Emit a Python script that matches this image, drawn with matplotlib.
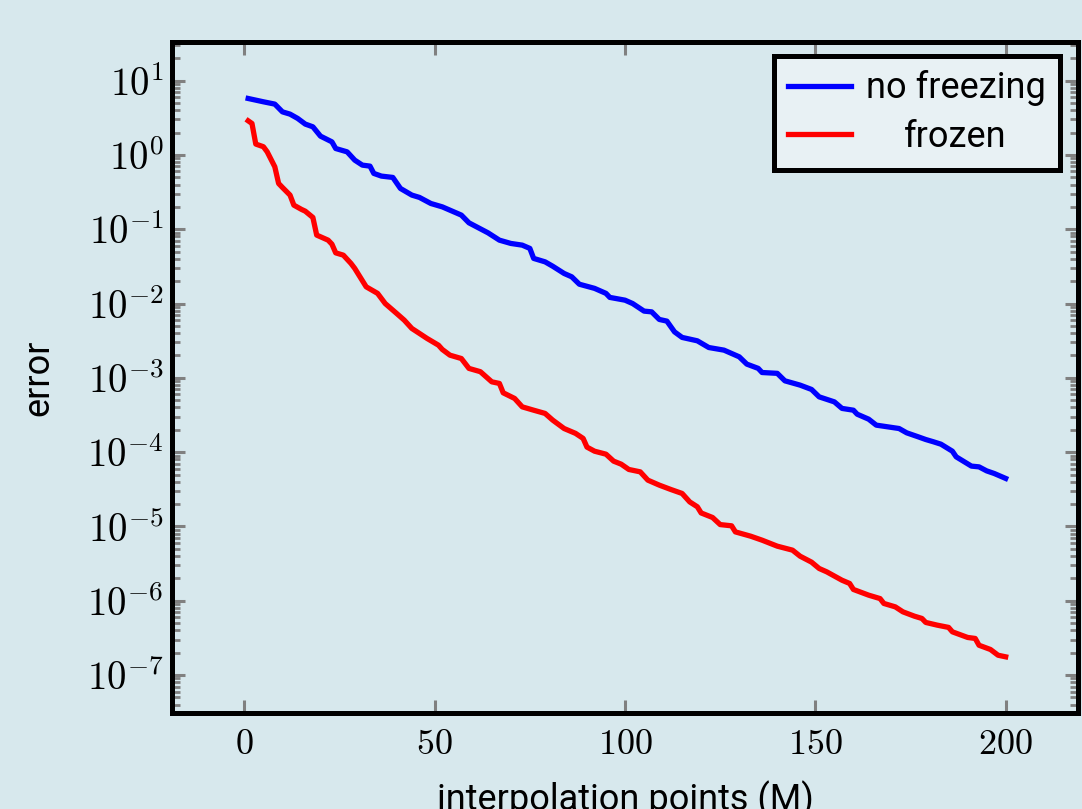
import numpy as np
import matplotlib
matplotlib.use("Agg")
import matplotlib.pyplot as plt
import matplotlib.ticker as ticker

# values
m_nofreeze = [1, 5, 8, 10, 12, 14, 16, 18, 20, 23, 24, 27, 29, 31, 33, 34, 36, 39, 41, 44,
              46, 49, 52, 57, 59, 64, 67, 70, 73, 75, 76, 79, 81, 84, 86, 88, 92, 95, 96, 100,
              102, 105, 107, 109, 111, 113, 115, 119, 122, 126, 130, 132, 135, 136, 140, 142,
              146, 149, 151, 155, 157, 160, 161, 164, 166, 172, 174, 177, 179, 181, 183, 186,
              187, 191, 193, 195, 197, 200]
err_nofreeze = [5.75, 5.19, 4.83, 3.80, 3.54, 3.10, 2.60, 2.39, 1.79, 1.50, 1.22, 1.10, 0.851,
                0.729, 0.707, 0.564, 0.519, 0.498, 0.354, 0.288, 0.268, 0.222, 0.200, 0.155,
                0.122, 0.0895, 0.0713, 0.0644, 0.0611, 0.0552, 0.0405, 0.0364, 0.0318, 0.0254,
                0.0229, 0.0182, 0.0160, 0.0137, 0.0121, 0.0111, 0.0100, 7.91e-3, 7.73e-3,
                6.11e-3, 5.80e-3, 4.16e-3, 3.50e-3, 3.15e-3, 2.56e-3, 2.36e-3, 1.92e-3, 1.53e-3,
                1.34e-3, 1.18e-3, 1.15e-3, 9.12e-4, 7.98e-4, 6.98e-4, 5.55e-4, 4.75e-4, 3.88e-4,
                3.67e-4, 3.24e-4, 2.78e-4, 2.31e-4, 2.08e-4, 1.82e-4, 1.61e-4, 1.48e-4, 1.38e-4,
                1.28e-4, 1.03e-4, 8.65e-5, 6.49e-5, 6.34e-5, 5.60e-5, 5.16e-5, 4.43e-5]

m_frozen = [1, 2, 3, 5, 6, 8, 9, 10, 12, 13, 15, 16, 18, 19, 22, 23, 24, 26, 28, 29, 32, 35,
            37, 38, 40, 42, 44, 46, 48, 51, 52, 54, 57, 59, 62, 65, 67, 68, 71, 73, 76, 79, 81,
            84, 87, 89, 90, 92, 95, 97, 99, 101, 104, 106, 109, 112, 115, 117, 119, 120, 123,
            125, 128, 129, 133, 136, 140, 144, 146, 149, 151, 153, 157, 159, 160, 164, 167,
            168, 171, 173, 176, 178, 179, 182, 185, 186, 190, 192, 193, 196, 198, 200]
err_frozen = [2.88, 2.65, 1.40, 1.29, 1.10, 0.692, 0.413, 0.365, 0.288, 0.211, 0.185, 0.175,
              0.144, 0.0834, 0.0713, 0.0630, 0.0481, 0.0448, 0.0347, 0.0297, 0.0168, 0.0137,
              0.0100, 9.03e-3, 7.36e-3, 5.98e-3, 4.62e-3, 3.96e-3, 3.39e-3, 2.75e-3, 2.41e-3,
              2.02e-3, 1.82e-3, 1.34e-3, 1.21e-3, 8.84e-4, 8.41e-4, 6.29e-4, 5.28e-4, 4.07e-4,
              3.67e-4, 3.32e-4, 2.70e-4, 2.08e-4, 1.79e-4, 1.53e-4, 1.17e-4, 1.03e-4, 9.39e-5,
              7.57e-5, 6.89e-5, 5.85e-5, 5.43e-5, 4.20e-5, 3.60e-5, 3.15e-5, 2.78e-5, 2.14e-5,
              1.84e-5, 1.52e-5, 1.32e-5, 1.06e-5, 1.02e-5, 8.45e-6, 7.40e-6, 6.54e-6, 5.43e-6,
              4.80e-6, 3.98e-6, 3.31e-6, 2.72e-6, 2.45e-6, 1.89e-6, 1.71e-6, 1.42e-6, 1.19e-6,
              1.07e-6, 9.20e-7, 8.28e-7, 7.10e-7, 6.21e-7, 5.78e-7, 5.11e-7, 4.70e-7, 4.38e-7,
              3.82e-7, 3.21e-7, 3.11e-7, 2.52e-7, 2.21e-7, 1.85e-7, 1.76e-7]

labels = ['no freezing', 'frozen']
x_ticks = [0, 50, 100, 150, 200]
y_exponents = [-7, -6, -5, -4, -3, -2, -1, 0, 1]
bg = '#d7e8ed'
label_font = 'Roboto'

plt.rcParams['mathtext.fontset'] = 'cm'

fig = plt.figure(figsize=(10.82, 8.09), dpi=100, facecolor=bg)
ax = fig.add_axes([0.159, 0.1187, 0.8373, 0.8294], facecolor=bg)

ax.plot(m_nofreeze, err_nofreeze, color='#0000ff', lw=3.8, label=labels[0])
ax.plot(m_frozen, err_frozen, color='#ff0000', lw=3.8, label=labels[1])

ax.set_yscale('log')
ax.set_xlim(-19, 219)
ax.set_ylim(10 ** -7.51, 10 ** 1.52)
ax.set_xticks(x_ticks)
ax.set_xticklabels([r'$%d$' % v for v in x_ticks])
ax.set_yticks([10.0 ** k for k in y_exponents])
ax.set_yticklabels([r'$10^{%d}$' % k for k in y_exponents])
ax.yaxis.set_minor_locator(ticker.LogLocator(base=10, subs=np.arange(2, 10), numticks=100))
ax.yaxis.set_minor_formatter(ticker.NullFormatter())

for s in ax.spines.values():
    s.set_linewidth(3.6)
    s.set_color('black')

ax.tick_params(which='both', direction='in', color='#808080', top=True, right=True)
ax.tick_params(which='major', length=9.5, width=2.2)
ax.tick_params(which='minor', length=5.8, width=2.0)
ax.tick_params(axis='x', which='minor', bottom=False, top=False)
ax.tick_params(axis='x', labelsize=26, pad=10)
ax.tick_params(axis='y', labelsize=28, pad=6)

ax.set_xlabel('interpolation points (M)', family=label_font, fontsize=26, labelpad=14)
ax.set_ylabel('error', family=label_font, fontsize=26, labelpad=22)

leg = ax.legend(loc='upper right', bbox_to_anchor=(1060 / 1082, 1 - 56 / 809),
                bbox_transform=fig.transFigure, borderaxespad=0, fancybox=False,
                prop={'family': label_font, 'size': 26}, handlelength=1.75,
                handletextpad=0.4, borderpad=0.4, labelspacing=0.35, framealpha=1)
leg.get_frame().set_facecolor('#e8f1f4')
leg.get_frame().set_edgecolor('black')
leg.get_frame().set_linewidth(3.6)

# centre the legend texts in their column
fig.canvas.draw()
renderer = fig.canvas.get_renderer()
widths = [t.get_window_extent(renderer).width for t in leg.get_texts()]
widest = max(widths)
for t, w in zip(leg.get_texts(), widths):
    t.set_position(((widest - w) / 2, 0))

fig.savefig('out.png', dpi=100, facecolor=bg)
